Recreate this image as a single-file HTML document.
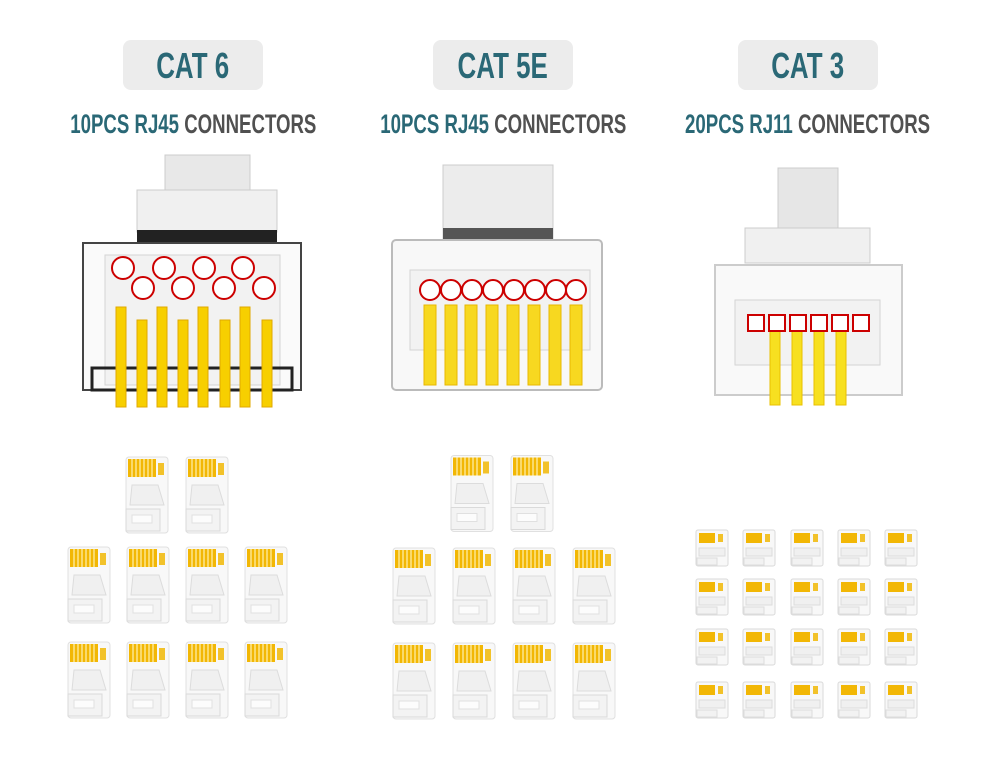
<!DOCTYPE html>
<html><head><meta charset="utf-8"><style>
html,body{margin:0;padding:0;background:#fff}
body{width:1000px;height:764px;position:relative;overflow:hidden;font-family:"Liberation Sans",sans-serif}
.tag{position:absolute;top:40px;width:140px;height:50px;background:#ececec;border-radius:8px;text-align:center;line-height:52px;font-weight:bold;font-size:36px;color:#2a6876;white-space:nowrap}
.tag span{display:inline-block;transform:scaleX(0.72)}
.sub{position:absolute;top:109px;width:500px;text-align:center;font-size:27px;font-weight:bold;color:#505050;line-height:30px;white-space:nowrap}
.sub span{display:inline-block;transform:scaleX(0.69)}
.sub b{color:#2a6876}
svg{position:absolute;left:0;top:0}
</style></head><body>
<div class="tag" style="left:123px"><span>CAT 6</span></div>
<div class="tag" style="left:433px"><span>CAT 5E</span></div>
<div class="tag" style="left:738px"><span>CAT 3</span></div>
<div class="sub" style="left:-57px"><span><b>10PCS RJ45</b> CONNECTORS</span></div>
<div class="sub" style="left:253px"><span><b>10PCS RJ45</b> CONNECTORS</span></div>
<div class="sub" style="left:558px"><span><b>20PCS RJ11</b> CONNECTORS</span></div>
<svg width="1000" height="764" viewBox="0 0 1000 764">
<defs>
<symbol id="sm" viewBox="0 0 50 80">
<rect x="4" y="2" width="42" height="76" rx="3" fill="#f8f8f8" stroke="#e0e0e0"/>
<rect x="6" y="4" width="28" height="18" fill="#f2b705"/>
<g stroke="#fff2b0" stroke-width="1.2"><line x1="10" y1="4" x2="10" y2="22"/><line x1="14" y1="4" x2="14" y2="22"/><line x1="18" y1="4" x2="18" y2="22"/><line x1="22" y1="4" x2="22" y2="22"/><line x1="26" y1="4" x2="26" y2="22"/><line x1="30" y1="4" x2="30" y2="22"/></g>
<rect x="36" y="8" width="6" height="12" fill="#f2c22a"/>
<path d="M10 30 L36 30 L42 50 L8 50 Z" fill="#f0f0f0" stroke="#dcdcdc"/>
<rect x="4" y="54" width="34" height="22" fill="#f3f3f3" stroke="#dadada"/>
<rect x="10" y="60" width="20" height="8" fill="#fcfcfc" stroke="#e0e0e0"/>
</symbol>
<symbol id="s3" viewBox="0 0 36 40">
<rect x="2" y="2" width="32" height="36" rx="2" fill="#f8f8f8" stroke="#dadada"/>
<rect x="5" y="5" width="16" height="10" fill="#f2b705"/>
<rect x="24" y="6" width="5" height="8" fill="#f2c22a"/>
<rect x="5" y="20" width="26" height="8" fill="#f0f0f0" stroke="#dcdcdc"/>
<rect x="3" y="30" width="20" height="7" fill="#f2f2f2" stroke="#dcdcdc"/>
</symbol>
</defs>
<g>
<rect x="165" y="155" width="85" height="35" fill="#e8e8e8" stroke="#ccc"/>
<rect x="137" y="190" width="140" height="42" fill="#f0f0f0" stroke="#ccc"/>
<rect x="137" y="230" width="140" height="12" fill="#222"/>
<rect x="83" y="243" width="218" height="147" fill="#fafafa" stroke="#444" stroke-width="2"/>
<rect x="105" y="255" width="175" height="130" fill="#f2f2f2" stroke="#d4d4d4"/>
<rect x="92" y="368" width="200" height="22" fill="none" stroke="#222" stroke-width="3"/>
<g fill="#f7cf00" stroke="#e0a800">
<rect x="116" y="307" width="10" height="100"/><rect x="137" y="320" width="10" height="87"/><rect x="157" y="307" width="10" height="100"/><rect x="178" y="320" width="10" height="87"/><rect x="198" y="307" width="10" height="100"/><rect x="220" y="320" width="10" height="87"/><rect x="240" y="307" width="10" height="100"/><rect x="262" y="320" width="10" height="87"/>
</g>
<g fill="#fff" stroke="#c00" stroke-width="2">
<circle cx="123" cy="268" r="11"/><circle cx="164" cy="268" r="11"/><circle cx="204" cy="268" r="11"/><circle cx="243" cy="268" r="11"/>
<circle cx="143" cy="288" r="11"/><circle cx="183" cy="288" r="11"/><circle cx="224" cy="288" r="11"/><circle cx="264" cy="288" r="11"/>
</g>
</g>
<g>
<rect x="443" y="165" width="110" height="75" fill="#ececec" stroke="#ccc"/>
<rect x="443" y="228" width="110" height="12" fill="#555"/>
<rect x="392" y="240" width="210" height="150" rx="4" fill="#f8f8f8" stroke="#bbb" stroke-width="2"/>
<rect x="410" y="270" width="180" height="80" fill="#f2f2f2" stroke="#d4d4d4"/>
<g fill="#f7d820" stroke="#e8b800">
<rect x="424" y="305" width="12" height="80"/><rect x="445" y="305" width="12" height="80"/><rect x="465" y="305" width="12" height="80"/><rect x="486" y="305" width="12" height="80"/><rect x="507" y="305" width="12" height="80"/><rect x="528" y="305" width="12" height="80"/><rect x="549" y="305" width="12" height="80"/><rect x="570" y="305" width="12" height="80"/>
</g>
<g fill="#fff" stroke="#c00" stroke-width="2">
<circle cx="430" cy="290" r="10"/><circle cx="451" cy="290" r="10"/><circle cx="472" cy="290" r="10"/><circle cx="493" cy="290" r="10"/><circle cx="514" cy="290" r="10"/><circle cx="535" cy="290" r="10"/><circle cx="556" cy="290" r="10"/><circle cx="576" cy="290" r="10"/>
</g>
</g>
<g>
<rect x="778" y="168" width="60" height="60" fill="#e6e6e6" stroke="#ccc"/>
<rect x="745" y="228" width="125" height="35" fill="#f0f0f0" stroke="#ccc"/>
<rect x="715" y="265" width="187" height="130" fill="#f9f9f9" stroke="#ccc" stroke-width="2"/>
<rect x="735" y="300" width="145" height="65" fill="#f2f2f2" stroke="#d4d4d4"/>
<g fill="#f7e020" stroke="#e8c000">
<rect x="770" y="330" width="10" height="75"/><rect x="792" y="330" width="10" height="75"/><rect x="814" y="330" width="10" height="75"/><rect x="836" y="330" width="10" height="75"/>
</g>
<g fill="#fff" stroke="#c00" stroke-width="2">
<rect x="748" y="315" width="16" height="16"/><rect x="769" y="315" width="16" height="16"/><rect x="790" y="315" width="16" height="16"/><rect x="811" y="315" width="16" height="16"/><rect x="832" y="315" width="16" height="16"/><rect x="853" y="315" width="16" height="16"/>
</g>
</g>
<use href="#sm" x="122" y="455" width="50" height="80"/><use href="#sm" x="182" y="455" width="50" height="80"/>
<use href="#sm" x="64" y="545" width="50" height="80"/><use href="#sm" x="123" y="545" width="50" height="80"/><use href="#sm" x="182" y="545" width="50" height="80"/><use href="#sm" x="241" y="545" width="50" height="80"/>
<use href="#sm" x="64" y="640" width="50" height="80"/><use href="#sm" x="123" y="640" width="50" height="80"/><use href="#sm" x="182" y="640" width="50" height="80"/><use href="#sm" x="241" y="640" width="50" height="80"/>
<use href="#sm" x="447" y="452" width="50" height="83"/><use href="#sm" x="507" y="452" width="50" height="83"/>
<use href="#sm" x="389" y="545" width="50" height="82"/><use href="#sm" x="449" y="545" width="50" height="82"/><use href="#sm" x="509" y="545" width="50" height="82"/><use href="#sm" x="569" y="545" width="50" height="82"/>
<use href="#sm" x="389" y="640" width="50" height="82"/><use href="#sm" x="449" y="640" width="50" height="82"/><use href="#sm" x="509" y="640" width="50" height="82"/><use href="#sm" x="569" y="640" width="50" height="82"/>
<g>
<use href="#s3" x="694" y="528" width="36" height="40"/><use href="#s3" x="741" y="528" width="36" height="40"/><use href="#s3" x="789" y="528" width="36" height="40"/><use href="#s3" x="836" y="528" width="36" height="40"/><use href="#s3" x="883" y="528" width="36" height="40"/>
<use href="#s3" x="694" y="577" width="36" height="40"/><use href="#s3" x="741" y="577" width="36" height="40"/><use href="#s3" x="789" y="577" width="36" height="40"/><use href="#s3" x="836" y="577" width="36" height="40"/><use href="#s3" x="883" y="577" width="36" height="40"/>
<use href="#s3" x="694" y="627" width="36" height="40"/><use href="#s3" x="741" y="627" width="36" height="40"/><use href="#s3" x="789" y="627" width="36" height="40"/><use href="#s3" x="836" y="627" width="36" height="40"/><use href="#s3" x="883" y="627" width="36" height="40"/>
<use href="#s3" x="694" y="680" width="36" height="40"/><use href="#s3" x="741" y="680" width="36" height="40"/><use href="#s3" x="789" y="680" width="36" height="40"/><use href="#s3" x="836" y="680" width="36" height="40"/><use href="#s3" x="883" y="680" width="36" height="40"/>
</g>
</svg>
</body></html>
